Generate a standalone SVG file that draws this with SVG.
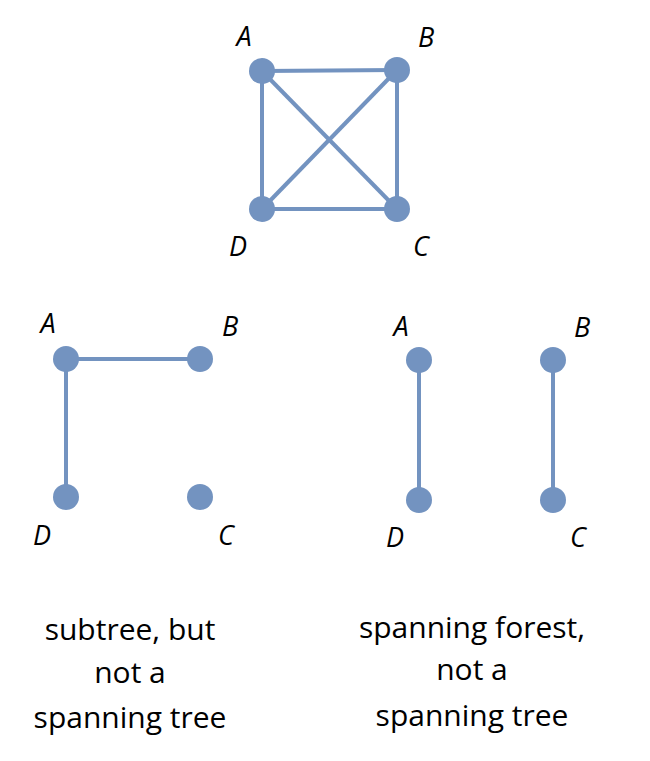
<svg xmlns="http://www.w3.org/2000/svg" width="650" height="761" viewBox="0 0 650 761">
<style>
.e{stroke:#7393c0;stroke-width:4;fill:none}
.n{fill:#7393c0}
.l{font-family:"Open Sans","Liberation Sans",sans-serif;font-style:italic;font-size:27px;fill:#000;text-anchor:middle}
.c{font-family:"Open Sans","Liberation Sans",sans-serif;font-size:30px;fill:#000;text-anchor:middle}
</style>
<rect width="650" height="761" fill="#fff"/>
<g id="connectors">
<line class="e" x1="262" y1="71" x2="397" y2="70"/>
<line class="e" x1="397" y1="70" x2="397" y2="209"/>
<line class="e" x1="397" y1="209" x2="262" y2="209"/>
<line class="e" x1="262" y1="209" x2="262" y2="71"/>
<line class="e" x1="262" y1="71" x2="397" y2="209"/>
<line class="e" x1="397" y1="70" x2="262" y2="209"/>
<line class="e" x1="66" y1="359" x2="200" y2="359"/>
<line class="e" x1="66" y1="359" x2="66" y2="497"/>
<line class="e" x1="419" y1="360" x2="419" y2="500"/>
<line class="e" x1="553" y1="360" x2="553" y2="500"/>
</g>
<g id="tA"><circle class="n" cx="262" cy="71" r="13"/><text class="l" x="244" y="46">A</text></g>
<g id="tB"><circle class="n" cx="397" cy="70" r="13"/><text class="l" x="426" y="47">B</text></g>
<g id="tC"><circle class="n" cx="397" cy="209" r="13"/><text class="l" x="421" y="256">C</text></g>
<g id="tD"><circle class="n" cx="262" cy="209" r="13"/><text class="l" x="238" y="256">D</text></g>
<g id="lA"><circle class="n" cx="66" cy="359" r="13"/><text class="l" x="48" y="333">A</text></g>
<g id="lB"><circle class="n" cx="200" cy="359" r="13"/><text class="l" x="230" y="336">B</text></g>
<g id="lC"><circle class="n" cx="200" cy="497" r="13"/><text class="l" x="226" y="545">C</text></g>
<g id="lD"><circle class="n" cx="66" cy="497" r="13"/><text class="l" x="42" y="545">D</text></g>
<g id="rA"><circle class="n" cx="419" cy="360" r="13"/><text class="l" x="401" y="336">A</text></g>
<g id="rB"><circle class="n" cx="553" cy="360" r="13"/><text class="l" x="582" y="337">B</text></g>
<g id="rC"><circle class="n" cx="553" cy="500" r="13"/><text class="l" x="578" y="547">C</text></g>
<g id="rD"><circle class="n" cx="419" cy="500" r="13"/><text class="l" x="395" y="547">D</text></g>
<g id="captionL"><text class="c" x="130" y="640">subtree, but</text><text class="c" x="130" y="683">not a</text><text class="c" x="130" y="728">spanning tree</text></g>
<g id="captionR"><text class="c" x="472" y="638">spanning forest,</text><text class="c" x="472" y="680">not a</text><text class="c" x="472" y="726">spanning tree</text></g>
</svg>
